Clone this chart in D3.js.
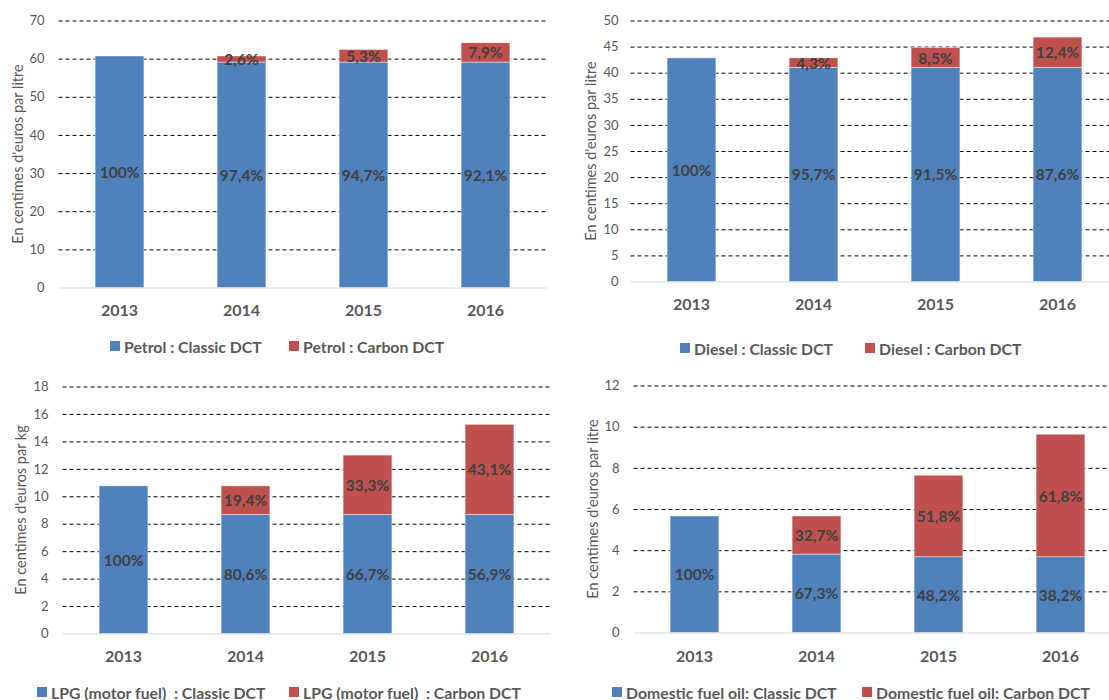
<!DOCTYPE html>
<html>
<head>
<meta charset="utf-8">
<script src="https://cdn.jsdelivr.net/npm/d3@7"></script>
<style>
  html, body { margin: 0; padding: 0; background: #ffffff; }
  svg { display: block; font-family: "Lato", "Noto Sans", sans-serif; }
</style>
</head>
<body>
<svg id="chart" width="1109" height="700"></svg>
<script>
// Years shown on every panel
const years = ["2013", "2014", "2015", "2016"];

// Petrol (centimes d'euros par litre)
const petrolClassic = [60.69, 59.10, 59.10, 59.10];
const petrolCarbon  = [0, 1.59, 3.31, 5.07];
const petrolClassicLabels = ["100%", "97,4%", "94,7%", "92,1%"];
const petrolCarbonLabels  = [null, "2,6%", "5,3%", "7,9%"];
const petrolTicks = [0, 10, 20, 30, 40, 50, 60, 70];
const petrolLegend = ["Petrol : Classic DCT", "Petrol : Carbon DCT"];

// Diesel (centimes d'euros par litre)
const dieselClassic = [42.84, 41.00, 41.00, 41.00];
const dieselCarbon  = [0, 1.84, 3.82, 5.82];
const dieselClassicLabels = ["100%", "95,7%", "91,5%", "87,6%"];
const dieselCarbonLabels  = [null, "4,3%", "8,5%", "12,4%"];
const dieselTicks = [0, 5, 10, 15, 20, 25, 30, 35, 40, 45, 50];
const dieselLegend = ["Diesel : Classic DCT", "Diesel : Carbon DCT"];

// LPG motor fuel (centimes d'euros par kg)
const lpgClassic = [10.76, 8.67, 8.67, 8.67];
const lpgCarbon  = [0, 2.09, 4.33, 6.57];
const lpgClassicLabels = ["100%", "80,6%", "66,7%", "56,9%"];
const lpgCarbonLabels  = [null, "19,4%", "33,3%", "43,1%"];
const lpgTicks = [0, 2, 4, 6, 8, 10, 12, 14, 16, 18];
const lpgLegend = ["LPG (motor fuel)  : Classic DCT", "LPG (motor fuel)  : Carbon DCT"];

// Domestic fuel oil (centimes d'euros par litre)
const fuelClassic = [5.66, 3.81, 3.68, 3.68];
const fuelCarbon  = [0, 1.85, 3.96, 5.95];
const fuelClassicLabels = ["100%", "67,3%", "48,2%", "38,2%"];
const fuelCarbonLabels  = [null, "32,7%", "51,8%", "61,8%"];
const fuelTicks = [0, 2, 4, 6, 8, 10, 12];
const fuelLegend = ["Domestic fuel oil: Classic DCT", "Domestic fuel oil: Carbon DCT"];

const BLUE = "#4F81BD";
const RED = "#C0504D";
const AXIS_TEXT = "#595959";
const LABEL_TEXT = "#404040";

const svg = d3.select("#chart");

function drawPanel(p) {
  const g = svg.append("g");

  const x = d3.scaleBand()
    .domain(p.categories)
    .range([p.left, p.right])
    .paddingInner(0.6)
    .paddingOuter(0.3);

  const y = d3.scaleLinear()
    .domain([0, d3.max(p.ticks)])
    .range([p.bottom, p.top]);

  // Y axis: dashed gridlines behind the bars, solid grey baseline at zero
  const yAxis = g.append("g")
    .attr("transform", `translate(${p.left},0)`)
    .call(d3.axisLeft(y)
      .tickValues(p.ticks)
      .tickSize(-(p.right - p.left))
      .tickPadding(p.tickGap)
      .tickFormat(d3.format("d")));
  yAxis.select(".domain").remove();
  yAxis.selectAll(".tick line")
    .attr("stroke", d => d === 0 ? "#D9D9D9" : "#000000")
    .attr("stroke-width", d => d === 0 ? 1.2 : 1)
    .attr("stroke-dasharray", d => d === 0 ? null : "4,3");
  yAxis.selectAll(".tick text")
    .attr("fill", AXIS_TEXT)
    .style("font-family", "Lato")
    .style("font-size", "13px");

  // Y axis title
  g.append("text")
    .attr("transform", `translate(${p.titleX},${(p.top + p.bottom) / 2}) rotate(-90)`)
    .attr("text-anchor", "middle")
    .attr("dominant-baseline", "central")
    .attr("fill", AXIS_TEXT)
    .style("font-size", "14.5px")
    .text(p.yTitle);

  // X axis: category labels only
  const xAxis = g.append("g")
    .attr("transform", `translate(0,${p.bottom})`)
    .call(d3.axisBottom(x).tickSize(0).tickPadding(0));
  xAxis.select(".domain").remove();
  xAxis.selectAll(".tick text")
    .attr("y", p.catGap)
    .attr("dy", "0.35em")
    .attr("fill", AXIS_TEXT)
    .style("font-family", "Lato")
    .style("font-weight", "bold")
    .style("font-size", "16px");

  const rows = p.categories.map((c, i) => ({
    cat: c,
    classic: p.classic[i],
    carbon: p.carbon[i],
    classicLabel: p.classicLabels[i],
    carbonLabel: p.carbonLabels[i]
  }));

  // Stacked bars: classic part at the bottom, carbon part on top
  g.selectAll(".bar-classic")
    .data(rows)
    .join("rect")
    .attr("x", d => x(d.cat))
    .attr("width", x.bandwidth())
    .attr("y", d => y(d.classic))
    .attr("height", d => y(0) - y(d.classic))
    .attr("fill", BLUE)
    .attr("stroke", "rgba(255,255,255,0.55)")
    .attr("stroke-width", 0.8);

  g.selectAll(".bar-carbon")
    .data(rows.filter(d => d.carbon > 0))
    .join("rect")
    .attr("x", d => x(d.cat))
    .attr("width", x.bandwidth())
    .attr("y", d => y(d.classic + d.carbon))
    .attr("height", d => y(d.classic) - y(d.classic + d.carbon))
    .attr("fill", RED)
    .attr("stroke", "rgba(255,255,255,0.55)")
    .attr("stroke-width", 0.8);

  // Share labels centred in each segment
  const labelStyle = sel => sel
    .attr("text-anchor", "middle")
    .attr("dominant-baseline", "central")
    .attr("fill", LABEL_TEXT)
    .style("font-weight", "bold")
    .style("font-size", "15.5px");

  g.selectAll(".lbl-classic")
    .data(rows)
    .join("text")
    .attr("x", d => x(d.cat) + x.bandwidth() / 2)
    .attr("y", d => y(d.classic / 2))
    .call(labelStyle)
    .text(d => d.classicLabel);

  g.selectAll(".lbl-carbon")
    .data(rows.filter(d => d.carbonLabel))
    .join("text")
    .attr("x", d => x(d.cat) + x.bandwidth() / 2)
    .attr("y", d => y(d.classic + d.carbon / 2))
    .call(labelStyle)
    .text(d => d.carbonLabel);

  // Legend
  const colors = [BLUE, RED];
  p.legend.forEach((name, i) => {
    g.append("rect")
      .attr("x", p.legendX[i])
      .attr("y", p.legendY - 5)
      .attr("width", 10)
      .attr("height", 10)
      .attr("fill", colors[i]);
    g.append("text")
      .attr("x", p.legendX[i] + 14)
      .attr("y", p.legendY)
      .attr("dominant-baseline", "central")
      .attr("fill", AXIS_TEXT)
      .style("white-space", "pre")
      .style("font-weight", "bold")
      .style("font-size", "15.8px")
      .text(name);
  });
}

drawPanel({
  categories: years, classic: petrolClassic, carbon: petrolCarbon,
  classicLabels: petrolClassicLabels, carbonLabels: petrolCarbonLabels,
  ticks: petrolTicks, legend: petrolLegend,
  yTitle: "En centimes d'euros par litre",
  left: 58.5, right: 546.5, top: 20.5, bottom: 287.5,
  tickGap: 14, titleX: 17, catGap: 23, legendY: 346, legendX: [110, 289]
});

drawPanel({
  categories: years, classic: dieselClassic, carbon: dieselCarbon,
  classicLabels: dieselClassicLabels, carbonLabels: dieselCarbonLabels,
  ticks: dieselTicks, legend: dieselLegend,
  yTitle: "En centimes d'euros par litre",
  left: 630.5, right: 1118.5, top: 20.5, bottom: 281.5,
  tickGap: 12, titleX: 590, catGap: 23, legendY: 348, legendX: [680, 865]
});

drawPanel({
  categories: years, classic: lpgClassic, carbon: lpgCarbon,
  classicLabels: lpgClassicLabels, carbonLabels: lpgCarbonLabels,
  ticks: lpgTicks, legend: lpgLegend,
  yTitle: "En centimes d'euros par kg",
  left: 62.5, right: 550.5, top: 386.5, bottom: 633.5,
  tickGap: 14, titleX: 20, catGap: 23, legendY: 692, legendX: [37, 289]
});

drawPanel({
  categories: years, classic: fuelClassic, carbon: fuelCarbon,
  classicLabels: fuelClassicLabels, carbonLabels: fuelCarbonLabels,
  ticks: fuelTicks, legend: fuelLegend,
  yTitle: "En centimes d'euros par litre",
  left: 633.5, right: 1121.5, top: 385.5, bottom: 632.5,
  tickGap: 14, titleX: 592, catGap: 24, legendY: 692, legendX: [612, 862]
});
</script>
</body>
</html>
